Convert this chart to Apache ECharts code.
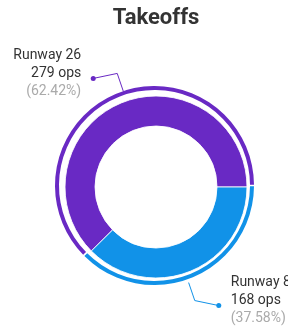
<!DOCTYPE html>
<html>
<head>
<meta charset="utf-8">
<script src="https://cdn.jsdelivr.net/npm/echarts@6/dist/echarts.min.js"></script>
<style>
  html, body { margin: 0; padding: 0; background: #fff; overflow: hidden; }
  #chart { width: 288px; height: 334px; }
</style>
</head>
<body>
<div id="chart"></div>
<script>
  const categories = ['Runway 26', 'Runway 8']
  const opsValues = [279, 168]
  const sliceColors = ['#6929c4', '#1192e8']

  const pieData = categories.map(function(name, i) {
    return { name: name, value: opsValues[i], itemStyle: { color: sliceColors[i] } }
  })

  const font = 'Roboto, "Noto Sans", sans-serif'

  // the end of the guide line sits a little under the label middle
  const lineDrop = 5

  const chart = echarts.init(document.getElementById('chart'))
  chart.setOption({
    backgroundColor: '#fff',
    animation: false,
    title: {
      text: 'Takeoffs',
      left: 151,
      top: 2,
      textAlign: 'center',
      textStyle: {
        color: '#333',
        fontSize: 22,
        fontWeight: 'bold',
        fontFamily: font
      }
    },
    series: [{
      // main donut
      type: 'pie',
      center: [156, 187],
      radius: [61, 91],
      startAngle: 0,
      clockwise: false,
      silent: true,
      label: { show: false },
      labelLine: { show: false },
      itemStyle: {
        borderColor: 'rgba(255,255,255,0.85)',
        borderWidth: 1
      },
      data: pieData
    }, {
      // thin outer ring
      type: 'pie',
      center: [154.5, 185.5],
      radius: [95.5, 99.5],
      startAngle: 0,
      clockwise: false,
      padAngle: 1,
      silent: true,
      label: { show: false },
      labelLine: { show: false },
      data: pieData
    }, {
      // invisible carrier for the labels and guide lines
      type: 'pie',
      center: [156, 187],
      radius: [98, 101],
      startAngle: -3.5,
      clockwise: false,
      silent: true,
      avoidLabelOverlap: false,
      itemStyle: { color: 'rgba(0,0,0,0)' },
      label: {
        show: true,
        position: 'outside',
        overflow: 'none',
        distanceToLabelLine: 12,
        fontFamily: font,
        formatter(p) {
          return '{name|' + p.name + '}\n{val|' + p.value + ' ops}\n{pct|(' + p.percent.toFixed(2) + '%)}'
        },
        rich: {
          name: { color: '#333', fontSize: 14, lineHeight: 18, fontFamily: font },
          val: { color: '#333', fontSize: 14, lineHeight: 18, fontFamily: font },
          pct: { color: '#aaa', fontSize: 14, lineHeight: 18, fontFamily: font }
        }
      },
      labelLine: {
        show: true,
        length: 19,
        length2: 24,
        lineStyle: { width: 1 }
      },
      labelLayout(params) {
        const pts = params.labelLinePoints
        if (!pts) return {}
        const last = pts[pts.length - 1]
        return {
          labelLinePoints: pts.slice(0, pts.length - 1).concat([[last[0], last[1] + lineDrop]])
        }
      },
      data: categories.map(function(name, i) {
        return {
          name: name,
          value: opsValues[i],
          labelLine: { lineStyle: { color: sliceColors[i] } }
        }
      })
    }, {
      // dots at the ends of the guide lines
      type: 'pie',
      center: [156, 187],
      radius: [98, 101],
      startAngle: -3.5,
      clockwise: false,
      silent: true,
      avoidLabelOverlap: false,
      itemStyle: { color: 'rgba(0,0,0,0)' },
      label: {
        show: true,
        position: 'outside',
        overflow: 'none',
        distanceToLabelLine: -2.5,
        formatter: '{dot|}',
        rich: {
          dot: { width: 5, height: 5, borderRadius: 2.5 }
        }
      },
      labelLine: { show: false, length: 19, length2: 24 },
      labelLayout() {
        return { dy: lineDrop }
      },
      data: categories.map(function(name, i) {
        return {
          name: name,
          value: opsValues[i],
          label: { rich: { dot: { backgroundColor: sliceColors[i] } } }
        }
      })
    }]
  })
</script>
</body>
</html>
